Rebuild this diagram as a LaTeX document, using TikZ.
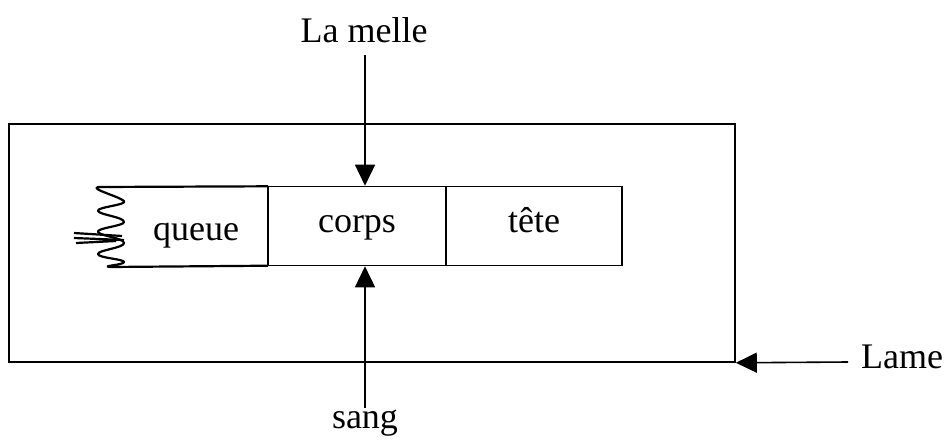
\documentclass[tikz,border=0pt]{standalone}
\usepackage{fontspec}
\setmainfont{Liberation Serif}
\usetikzlibrary{arrows.meta}
\begin{document}
\begin{tikzpicture}[x=1pt,y=-1pt,
  line/.style={line width=1.6pt},
  lbl/.style={font=\fontsize{36}{42}\selectfont, inner sep=0pt},
  cell/.style={line, draw, minimum height=79pt, inner sep=0pt},
  arr/.style={line, -{Triangle[length=21pt,width=20pt]}}]
\useasboundingbox (0,0) rectangle (947,444);
% outer frame (Lame)
\node[line, draw, minimum width=726pt, minimum height=238pt, inner sep=0pt] (frame) at (372,243) {};
% cells
\node[minimum width=168pt, minimum height=79pt, inner sep=0pt] (queue) at (184,226) {};
\node[cell, minimum width=178pt] (corps) at (357,226) {};
\node[cell, minimum width=176pt] (tete) at (534,226) {};
% texts
\node[lbl, anchor=base] (tq) at (196,240) {queue};
\node[lbl, anchor=base] (tc) at (357,232) {corps};
\node[lbl, anchor=base] (tt) at (534,232) {tête};
\node[lbl, anchor=base] (melle) at (364,42) {La melle};
\node[lbl, anchor=base] (sang) at (365,428) {sang};
\node[lbl, anchor=base west] (lame) at (861,368) {Lame};
% queue outline with zigzag end
\draw[line width=2.2pt, line join=round]
  (queue.north east) -- (98,187)
  .. controls (90,189) and (118,196) .. (124,201)
  .. controls (128,205) and (96,207) .. (98,211)
  .. controls (100,215) and (124,217) .. (124,222)
  .. controls (124,226) and (96,228) .. (98,232)
  .. controls (100,236) and (124,238) .. (124,243)
  .. controls (124,248) and (98,250) .. (98,254)
  .. controls (98,258) and (124,259) .. (124,262)
  .. controls (124,265) and (100,266) .. (110,267)
  -- (queue.south east);
\draw[line width=2.2pt] (74,233) -- (122,236) (74,238) -- (124,240) (76,243) -- (116,241);
% arrows
\coordinate (a1) at (365,55);
\coordinate (a2) at (365,408);
\coordinate (a3) at (848,362);
\draw[arr] (a1) -- (corps.north -| a1);
\draw[arr] (a2) -- (corps.south -| a2);
\draw[arr] (a3) -- (frame.south east);
\end{tikzpicture}
\end{document}
